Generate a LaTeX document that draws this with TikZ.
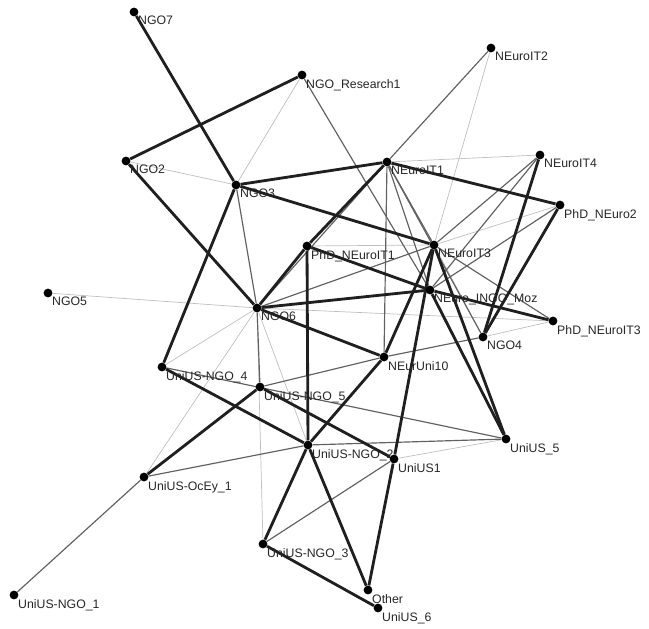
\documentclass[tikz,border=0pt]{standalone}
\usepackage{fontspec}
\setmainfont{Liberation Sans}
\usetikzlibrary{positioning,backgrounds}

\begin{document}
\begin{tikzpicture}[x=0.03cm, y=-0.03cm,
        actor/.style={circle, fill=black, inner sep=0pt, minimum size=7.5pt},
        lbl/.style={font=\fontsize{10.5}{12}\selectfont, inner sep=0.6pt, text=black!85},
        strong/.style={line width=2.4pt, black!88},
        mid/.style={line width=1pt, black!62},
        weak/.style={line width=0.6pt, black!25}]
        \useasboundingbox (0,0) rectangle (649,629);
        % actors
        \node[actor, label={[lbl]-45:NGO7}]              (ngo7)   at (134,12)  {};
        \node[actor, label={[lbl]-45:NGO\_Research1}]    (ngores) at (302,75)  {};
        \node[actor, label={[lbl]-45:NEuroIT2}]          (neit2)  at (491,48)  {};
        \node[actor, label={[lbl]-45:NGO2}]              (ngo2)   at (126,161) {};
        \node[actor, label={[lbl]-45:NGO3}]              (ngo3)   at (236,185) {};
        \node[actor, label={[lbl]-45:NEuroIT1}]          (neit1)  at (387,162) {};
        \node[actor, label={[lbl]-45:NEuroIT4}]          (neit4)  at (540,155) {};
        \node[actor, label={[lbl]-45:PhD\_NEuro2}]       (phdne2) at (560,205) {};
        \node[actor, label={[lbl]-45:PhD\_NEuroIT1}]     (phdit1) at (307,246) {};
        \node[actor, label={[lbl]-45:NEuroIT3}]          (neit3)  at (434,245) {};
        \node[actor, label={[lbl]-45:NEuro\_INGO\_Moz}]  (nemoz)  at (430,290) {};
        \node[actor, label={[lbl]-45:NGO5}]              (ngo5)   at (48,293)  {};
        \node[actor, label={[lbl]-45:NGO6}]              (ngo6)   at (257,308) {};
        \node[actor, label={[lbl]-45:PhD\_NEuroIT3}]     (phdit3) at (553,321) {};
        \node[actor, label={[lbl]-45:NGO4}]              (ngo4)   at (483,337) {};
        \node[actor, label={[lbl]-45:NEurUni10}]         (neu10)  at (384,357) {};
        \node[actor, label={[lbl]-45:UniUS-NGO\_4}]      (usn4)   at (162,367) {};
        \node[actor, label={[lbl]-45:UniUS-NGO\_5}]      (usn5)   at (260,387) {};
        \node[actor, label={[lbl]-45:UniUS\_5}]          (us5)    at (506,439) {};
        \node[actor, label={[lbl]-45:UniUS-NGO\_2}]      (usn2)   at (308,445) {};
        \node[actor, label={[lbl]-45:UniUS1}]            (us1)    at (394,459) {};
        \node[actor, label={[lbl]-45:UniUS-OcEy\_1}]     (usoc)   at (144,477) {};
        \node[actor, label={[lbl]-45:UniUS-NGO\_3}]      (usn3)   at (263,544) {};
        \node[actor, label={[lbl]-45:Other}]             (other)  at (368,590) {};
        \node[actor, label={[lbl]-45:UniUS\_6}]          (us6)    at (378,608) {};
        \node[actor, label={[lbl]-45:UniUS-NGO\_1}]      (usn1)   at (14,595)  {};
        \begin{scope}[on background layer]
        % weak ties
        \draw[weak] (ngores) -- (ngo3);
        \draw[weak] (ngo2) -- (ngo3);
        \draw[weak] (ngo5) -- (ngo6);
        \draw[weak] (neit2) -- (neit3);
        \draw[weak] (neit1) -- (neit4);
        \draw[weak] (us1) -- (us5);
        \draw[weak] (usoc) -- (ngo6);
        \draw[weak] (usn3) -- (ngo6);
        \draw[weak] (ngo6) -- (phdit3);
        \draw[weak] (ngo6) -- (usn4);
        \draw[weak] (ngo6) -- (usn2);
        \draw[weak] (phdit1) -- (neit3);
        \draw[weak] (neit3) -- (phdne2);
        \draw[weak] (neit3) -- (ngo4);
        \draw[weak] (ngo4) -- (phdit3);
        % medium ties
        \draw[mid] (ngores) -- (nemoz);
        \draw[mid] (neit2) -- (neit1);
        \draw[mid] (ngo3) -- (ngo6);
        \draw[mid] (ngo6) -- (usn5);
        \draw[mid] (usn5) -- (neu10);
        \draw[mid] (neu10) -- (ngo4);
        \draw[mid] (usn2) -- (us5);
        \draw[mid] (usn3) -- (us1);
        \draw[mid] (usoc) -- (usn2);
        \draw[mid] (usoc) -- (usn1);
        \draw[mid] (neit1) -- (neit3);
        \draw[mid] (neit1) -- (nemoz);
        \draw[mid] (neit1) -- (ngo4);
        \draw[mid] (neit1) -- (neu10);
        \draw[mid] (neit1) -- (ngo6);
        \draw[mid] (neit4) -- (neit3);
        \draw[mid] (neit4) -- (nemoz);
        \draw[mid] (usn4) -- (us5);
        \draw[mid] (ngo6) -- (neit3);
        \draw[mid] (nemoz) -- (phdne2);
        \draw[mid] (neit3) -- (phdit3);
        % strong ties
        \draw[strong] (ngo7) -- (ngo3);
        \draw[strong] (ngores) -- (ngo2);
        \draw[strong] (ngo2) -- (ngo6);
        \draw[strong] (ngo3) -- (usn4);
        \draw[strong] (ngo3) -- (neit1);
        \draw[strong] (ngo3) -- (neit3);
        \draw[strong] (neit1) -- (phdit1);
        \draw[strong] (phdit1) -- (ngo6);
        \draw[strong] (phdit1) -- (usn2);
        \draw[strong] (phdit1) -- (nemoz);
        \draw[strong] (ngo6) -- (nemoz);
        \draw[strong] (ngo6) -- (neu10);
        \draw[strong] (neu10) -- (usn2);
        \draw[strong] (neit3) -- (neu10);
        \draw[strong] (neit3) -- (us5);
        \draw[strong] (nemoz) -- (us5);
        \draw[strong] (neit3) -- (us1);
        \draw[strong] (neit1) -- (phdne2);
        \draw[strong] (neit4) -- (ngo4);
        \draw[strong] (phdne2) -- (ngo4);
        \draw[strong] (nemoz) -- (phdit3);
        \draw[strong] (usn4) -- (usn2);
        \draw[strong] (usn5) -- (us1);
        \draw[strong] (usoc) -- (usn5);
        \draw[strong] (usn2) -- (usn3);
        \draw[strong] (usn2) -- (other);
        \draw[strong] (us1) -- (other);
        \draw[strong] (usn3) -- (us6);
        \end{scope}
\end{tikzpicture}
\end{document}
